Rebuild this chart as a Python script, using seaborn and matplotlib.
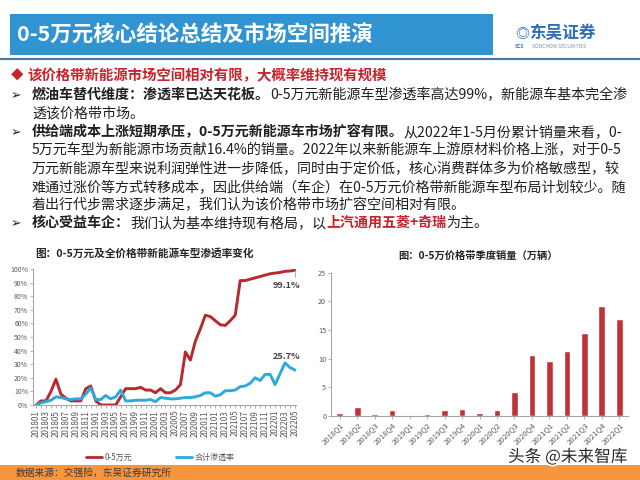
import matplotlib
matplotlib.use('Agg')
import matplotlib.pyplot as plt
import matplotlib.patches as mpatches
import matplotlib.patheffects as pe
from matplotlib.lines import Line2D
import seaborn as sns
import pandas as pd

# ---------------- data ----------------
months = ['201801', '201802', '201803', '201804', '201805', '201806', '201807', '201808',
          '201809', '201810', '201811', '201812', '201901', '201902', '201903', '201904',
          '201905', '201906', '201907', '201908', '201909', '201910', '201911', '201912',
          '202001', '202002', '202003', '202004', '202005', '202006', '202007', '202008',
          '202009', '202010', '202011', '202012', '202101', '202102', '202103', '202104',
          '202105', '202106', '202107', '202108', '202109', '202110', '202111', '202112',
          '202201', '202202', '202203', '202204', '202205']
pen_0_5 = [0, 3, 3, 10, 19, 8, 5, 3, 3, 3, 12, 14, 3, 0, 0, 0, 0, 6, 12, 12, 12, 13, 11, 11,
           9, 12, 9, 9, 11, 15, 39, 33, 47, 56, 66, 65, 62, 59, 58.5, 62, 66, 91.5, 91.5,
           92.5, 93.5, 94.5, 95.5, 96.5, 97, 97.5, 98.3, 98.5, 99.1]
pen_total = [0, 1.5, 2.5, 3.5, 6, 5.5, 4.5, 4, 4.5, 4.5, 8, 12.5, 4, 4, 7, 4.5, 6, 11, 3, 3,
             3.5, 3.5, 3.5, 4, 2.5, 5.5, 5, 4.5, 4.5, 5, 5.5, 5.5, 6, 7, 9, 9, 6.5, 7.5, 10.5,
             10.5, 11, 13.5, 14, 16, 20, 18, 22.5, 22.5, 15, 23, 31, 27.5, 25.7]
series_names = ['0-5万元', '合计渗透率']
pct_ticks = [0, 10, 20, 30, 40, 50, 60, 70, 80, 90, 100]

quarters = ['2018Q1', '2018Q2', '2018Q3', '2018Q4', '2019Q1', '2019Q2', '2019Q3', '2019Q4',
            '2020Q1', '2020Q2', '2020Q3', '2020Q4', '2021Q1', '2021Q2', '2021Q3', '2021Q4',
            '2022Q1']
sales = [0.45, 1.5, 0.4, 1.05, 0.12, 0.3, 1.1, 1.15, 0.58, 1.0, 4.1, 10.6, 9.5, 11.3, 14.4,
         19.2, 16.9]
sales_ticks = [0, 5, 10, 15, 20, 25]

# ---------------- style ----------------
sns.set_theme(style='ticks')
FAM = ['Noto Sans CJK SC', 'DejaVu Sans']
plt.rcParams['font.family'] = FAM
plt.rcParams['axes.unicode_minus'] = False

RED = '#B8292F'
BLUE = '#2EA9DB'
BAR = '#C0323A'
GRAY = '#595959'
SPINE = '#A6A6A6'
TXT = '#1F1F1F'

W, H = 640, 480
fig = plt.figure(figsize=(6.4, 4.8), dpi=100)
fig.patch.set_facecolor('white')


def fx(px):
    return px / W


def fy(py):
    return 1 - py / H


# header
fig.add_artist(mpatches.Rectangle((fx(10), fy(55)), fx(493) - fx(10), 41 / H,
                                  transform=fig.transFigure, color='#2F94D1', lw=0))
fig.text(fx(17), fy(35), '0-5万元核心结论总结及市场空间推演', color='white',
         fontsize=15.5, fontweight='bold', va='center', ha='left')
fig.add_artist(Line2D([0, 1], [fy(58.5), fy(58.5)], transform=fig.transFigure,
                      color='#4A78A8', lw=1.6))
# logo
fig.text(fx(515), fy(34), '◎', color='#2F6DB5', fontsize=10, va='center', ha='left',
         fontweight='bold')
fig.text(fx(529), fy(33), '东吴证券', color='#2F6DB5', fontsize=12, va='center', ha='left',
         fontweight='bold')
fig.text(fx(515), fy(46), 'SCS', color='#2F6DB5', fontsize=3.5, va='center', ha='left',
         fontweight='bold')
fig.text(fx(532), fy(46), 'SOOCHOW SECURITIES', color='#7A8FA8', fontsize=3.6, va='center',
         ha='left')

# rich body text
renderer = fig.canvas.get_renderer()
FS = 10.1


def rich(xpx, ypx, segs, size=FS):
    x = fx(xpx)
    for s, color, weight in segs:
        t = fig.text(x, fy(ypx), s, color=color, fontsize=size, fontweight=weight,
                     va='baseline', ha='left')
        bb = t.get_window_extent(renderer)
        x = bb.x1 / fig.bbox.width


TRED = '#C8232C'
rich(11, 80, [('◆', TRED, 'normal')], size=9)
rich(27, 80, [('该价格带新能源市场空间相对有限，大概率维持现有规模', TRED, 'bold')], size=10.4)
lines = [
    (99, [('燃油车替代维度：渗透率已达天花板。', TXT, 'bold'),
          ('0-5万元新能源车型渗透率高达99%，新能源车基本完全渗', TXT, 'normal')], True),
    (117, [('透该价格带市场。', TXT, 'normal')], False),
    (136, [('供给端成本上涨短期承压，0-5万元新能源车市场扩容有限。', TXT, 'bold'),
           ('从2022年1-5月份累计销量来看，0-', TXT, 'normal')], True),
    (154, [('5万元车型为新能源市场贡献16.4%的销量。2022年以来新能源车上游原材料价格上涨，对于0-5', TXT, 'normal')], False),
    (173, [('万元新能源车型来说利润弹性进一步降低，同时由于定价低，核心消费群体多为价格敏感型，较', TXT, 'normal')], False),
    (191, [('难通过涨价等方式转移成本，因此供给端（车企）在0-5万元价格带新能源车型布局计划较少。随', TXT, 'normal')], False),
    (209, [('着出行代步需求逐步满足，我们认为该价格带市场扩容空间相对有限。', TXT, 'normal')], False),
    (227, [('核心受益车企：', TXT, 'bold'), ('我们认为基本维持现有格局，以', TXT, 'normal'),
           ('上汽通用五菱+奇瑞', TRED, 'bold'), ('为主。', TXT, 'normal')], True),
]
for ypx, segs, bullet in lines:
    if bullet:
        rich(11, ypx, [('➢', TXT, 'normal')], size=9)
    rich(32, ypx, segs)

# ---------------- left chart: penetration lines ----------------
fig.text(fx(35), fy(253), '图：0-5万元及全价格带新能源车型渗透率变化', fontsize=7.7,
         fontweight='bold', color='#262626', va='center', ha='left')
ax1 = fig.add_axes([fx(33), fy(405), (296 - 33) / W, (405 - 269) / H])
df = pd.DataFrame({'idx': list(range(len(months))) * 2,
                   'val': pen_0_5 + pen_total,
                   'series': [series_names[0]] * len(months) + [series_names[1]] * len(months)})
sns.lineplot(data=df, x='idx', y='val', hue='series', palette=[RED, BLUE], linewidth=2.1,
             ax=ax1, legend=False)
ax1.set_xlim(-0.6, 52.2)
ax1.set_ylim(0, 100)
ax1.set_yticks(pct_ticks)
ax1.set_yticklabels([f'{v}%' for v in pct_ticks], fontsize=5, color=GRAY)
ax1.set_xticks(range(len(months)))
ax1.set_xticklabels([m if i % 2 == 0 else '' for i, m in enumerate(months)], rotation=90,
                    fontsize=5.8, color=GRAY)
ax1.set_xlabel('')
ax1.set_ylabel('')
for s in ['top', 'right']:
    ax1.spines[s].set_visible(False)
for s in ['left', 'bottom']:
    ax1.spines[s].set_color(SPINE)
    ax1.spines[s].set_linewidth(0.8)
ax1.tick_params(axis='both', length=2, width=0.6, color=SPINE, pad=1.5)
ax1.patch.set_alpha(0)
ax1.annotate(f'{pen_0_5[-1]}%', xy=(52, pen_0_5[-1]), xytext=(47.5, 88),
             fontsize=6.5, fontweight='bold', color='#404040', ha='left', va='center',
             arrowprops=dict(arrowstyle='-', color='#A0A0A0', lw=0.6, shrinkA=0, shrinkB=0,
                             relpos=(0.85, 1.0)))
ax1.text(47.5, 36, f'{pen_total[-1]}%', fontsize=6.5, fontweight='bold', color='#404040',
         ha='left', va='center')
handles = [Line2D([], [], color=RED, lw=2), Line2D([], [], color=BLUE, lw=2)]
fig.legend(handles, series_names, loc='center left', bbox_to_anchor=(fx(82), fy(457)),
           ncol=2, frameon=False, fontsize=5.8, handlelength=2.0, handletextpad=0.3,
           columnspacing=5.4, borderpad=0, labelcolor=GRAY)

# ---------------- right chart: quarterly sales ----------------
fig.text(fx(478), fy(256), '图：0-5万价格带季度销量（万辆）', fontsize=7.4, fontweight='bold',
         color='#262626', va='center', ha='center')
ax2 = fig.add_axes([fx(331), fy(416), (628 - 331) / W, (416 - 272.5) / H])
sns.barplot(x=quarters, y=sales, color=BAR, width=0.38, ax=ax2, saturation=1)
ax2.set_xlim(-0.5, len(quarters) - 0.5)
ax2.set_ylim(0, 25)
ax2.set_yticks(sales_ticks)
ax2.set_yticklabels([str(v) for v in sales_ticks], fontsize=5.2, color=GRAY)
ax2.set_xticks(range(len(quarters)))
ax2.set_xticklabels(quarters, rotation=45, ha='right', rotation_mode='anchor', fontsize=5.6,
                    color=GRAY)
for s in ['top', 'right']:
    ax2.spines[s].set_visible(False)
for s in ['left', 'bottom']:
    ax2.spines[s].set_color(SPINE)
    ax2.spines[s].set_linewidth(0.8)
ax2.tick_params(axis='both', length=2, width=0.6, color=SPINE, pad=1.5)
ax2.patch.set_alpha(0)

# ---------------- footer ----------------
fig.add_artist(mpatches.Rectangle((0, 0), 1, 15 / H, transform=fig.transFigure,
                                  color='#F7963F', lw=0))
fig.text(fx(16), fy(473), '数据来源：交强险，东吴证券研究所', fontsize=7, color='#3A3A3A',
         va='center', ha='left')
fig.text(fx(508), fy(457), '头条 @未来智库', fontsize=12, color='#2A2A2A', va='center',
         ha='left', path_effects=[pe.withStroke(linewidth=2.5, foreground='white')])

fig.savefig('out.png', dpi=100, facecolor='white')
